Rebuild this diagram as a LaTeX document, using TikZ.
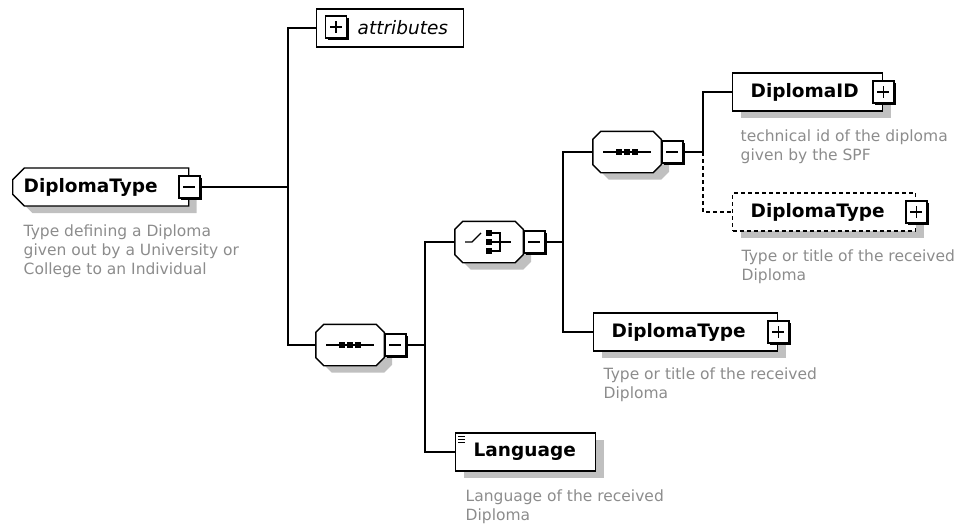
\documentclass[tikz,border=0pt]{standalone}
\usepackage{fontspec}
\setmainfont{DejaVu Sans}
\usetikzlibrary{positioning,shapes.misc,shadows}
\definecolor{descgray}{RGB}{140,140,140}
\definecolor{shadowgray}{RGB}{192,192,192}
\tikzset{
  greyshadow/.style={drop shadow={shadow xshift=8pt,shadow yshift=-7pt,fill=shadowgray,opacity=1}},
  elem/.style={draw, fill=white, minimum height=38pt, inner xsep=18pt, align=left, anchor=west,
    font=\fontsize{18.5}{22}\selectfont\bfseries, greyshadow},
  attrbox/.style={draw, fill=white, minimum width=147pt, minimum height=38pt, anchor=west},
  comp/.style={minimum width=67pt, minimum height=40pt, inner sep=0pt},
  desc/.style={anchor=north west, inner sep=0pt, align=left, text=descgray,
    font=\fontsize{15.5}{19}\selectfont},
  pmbox/.style={draw, fill=white, minimum width=21pt, minimum height=22pt, inner sep=0pt,
    drop shadow={shadow xshift=2pt,shadow yshift=-2pt,fill=black,opacity=1}},
  minusbox/.style={pmbox, path picture={
    \draw[line width=1.6pt] ([xshift=-6pt]path picture bounding box.center) -- ([xshift=6pt]path picture bounding box.center);}},
  plusbox/.style={pmbox, path picture={
    \draw[line width=1.6pt] ([xshift=-6pt]path picture bounding box.center) -- ([xshift=6pt]path picture bounding box.center)
          ([yshift=-6pt]path picture bounding box.center) -- ([yshift=6pt]path picture bounding box.center);}},
  seqicon/.pic={
    \draw (-24,0) -- (24,0);
    \foreach \x in {-8,0,8} \fill (\x-2.8,-2.8) rectangle (\x+2.8,2.8);
  },
  choiceicon/.pic={
    \draw (-24,0) -- (-17,0) -- (-8,-9);
    \foreach \y in {-9,0,9} \fill (-2.8,\y-2.8) rectangle (2.8,\y+2.8);
    \draw (2,-9) -- (11,-9) -- (11,9) -- (2,9) (2,0) -- (22,0);
  }
}
% octagon outline round a compositor node
\newcommand{\compoutline}[1]{%
  \draw[fill=white, greyshadow] ([xshift=8pt]#1.north west) -- ([xshift=-8pt]#1.north east)
    -- ([yshift=-8pt]#1.north east) -- ([yshift=8pt]#1.south east) -- ([xshift=-8pt]#1.south east)
    -- ([xshift=8pt]#1.south west) -- ([yshift=8pt]#1.south west) -- ([yshift=-8pt]#1.north west) -- cycle;}
\begin{document}
\begin{tikzpicture}[x=1pt,y=-1pt,line width=1.4pt]
    \useasboundingbox (0,0) rectangle (975,527);
    % root element
    \node[elem, chamfered rectangle, chamfered rectangle corners={north west,south west},
      chamfered rectangle xsep=8pt, inner xsep=3pt, text width=154pt] (root) at (12,187) {DiplomaType};
    \node[minusbox] (rootm) at (root.east) {};
    \node[desc] (rootd) at (23,224) {Type defining a Diploma\\given out by a University or\\College to an Individual};
    % attributes
    \node[attrbox] (attr) at (316,28) {};
    \node[plusbox] (attrp) at (336,27) {};
    \node[anchor=west, inner sep=0pt, font=\fontsize{18.5}{22}\selectfont\itshape] (attrt) at (357,28) {attributes};
    % compositors
    \node[comp] (seq1) at (350,345) {};
    \compoutline{seq1}
    \pic at (seq1.center) {seqicon};
    \node[minusbox, anchor=west] (seq1m) at (seq1.east) {};
    \node[comp] (choice) at (489,242) {};
    \compoutline{choice}
    \pic at (choice.center) {choiceicon};
    \node[minusbox, anchor=west] (choicem) at (choice.east) {};
    \node[comp] (seq2) at (627,152) {};
    \compoutline{seq2}
    \pic at (seq2.center) {seqicon};
    \node[minusbox, anchor=west] (seq2m) at (seq2.east) {};
    % child elements
    \node[elem, text width=114pt] (diplid) at (732,92) {DiplomaID};
    \node[plusbox] (diplidp) at (diplid.east) {};
    \node[desc] (diplidd) at (740,129) {technical id of the diploma\\given by the SPF};
    \node[elem, dash pattern=on 4pt off 3pt, text width=147pt] (dtypeopt) at (732,212) {DiplomaType};
    \node[plusbox] (dtypeoptp) at (dtypeopt.east) {};
    \node[desc] (dtypeoptd) at (741,249) {Type or title of the received\\Diploma};
    \node[elem, text width=148pt] (dtype) at (593,332) {DiplomaType};
    \node[plusbox] (dtypep) at (dtype.east) {};
    \node[desc] (dtyped) at (603,367) {Type or title of the received\\Diploma};
    \node[elem, text width=104pt] (lang) at (455,452) {Language};
    \foreach \d in {4,7,10} \draw[line width=0.9pt] ([xshift=3pt,yshift=-\d pt]lang.north west) -- ++(7,0);
    \node[desc] (langd) at (465,489) {Language of the received\\Diploma};
    % connectors
    \coordinate (j1) at (288,187);
    \coordinate (j2) at (425,345);
    \coordinate (j3) at (563,242);
    \coordinate (j4) at (703,152);
    \draw (rootm.east) -- (j1);
    \draw (attr.west) -| (j1) |- (seq1.west);
    \draw (seq1m.east) -- (j2);
    \draw (choice.west) -| (j2) |- (lang.west);
    \draw (choicem.east) -- (j3);
    \draw (seq2.west) -| (j3) |- (dtype.west);
    \draw (seq2m.east) -- (j4) |- (diplid.west);
    \draw[dash pattern=on 4pt off 3pt] (j4) |- (dtypeopt.west);
\end{tikzpicture}
\end{document}
